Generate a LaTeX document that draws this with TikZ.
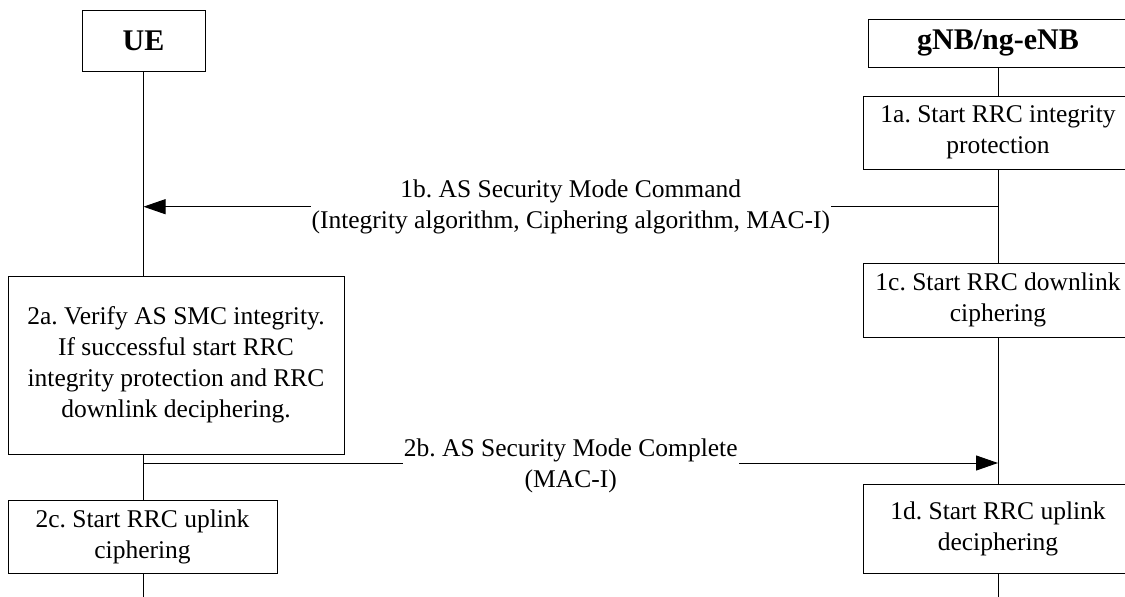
\documentclass[tikz,border=0pt]{standalone}
\usepackage{fontspec}
\setmainfont{Liberation Serif}
\usetikzlibrary{arrows.meta,positioning}
\frenchspacing

\begin{document}
\begin{tikzpicture}[x=1pt,y=-1pt,>={Triangle[length=22pt,width=15pt]},on grid,
  every node/.style={font=\fontsize{25.5}{31}\selectfont},
  box/.style={draw,fill=white,align=center,inner sep=0pt,line width=0.9pt},
  head/.style={box,font=\fontsize{30}{34}\selectfont\bfseries},
  msg/.style={fill=white,align=center,inner sep=1pt}]
  \useasboundingbox (0,0) rectangle (1125,597);
  % entities
  \node[head,minimum width=123pt,minimum height=61pt] (ue)  at (143.5,40.5) {UE};
  \node[head,minimum width=260pt,minimum height=48pt] (gnb) at (998,43)     {gNB/ng-eNB};
  \coordinate (ueend)  at (143.5,597);
  \coordinate (gnbend) at (998,597);
  \draw[line width=1pt] (ue)  -- (ueend);
  \draw[line width=1pt] (gnb) -- (gnbend);
  % gNB side steps
  \node[box,minimum width=270pt,minimum height=73pt] (s1a) [below=89.5pt of gnb]  {1a. Start RRC integrity\\protection};
  \node[box,minimum width=270pt,minimum height=74pt] (s1c) [below=167.5pt of s1a] {1c. Start RRC downlink\\ciphering};
  \node[box,minimum width=270pt,minimum height=89pt] (s1d) [below=228.5pt of s1c] {1d. Start RRC uplink\\deciphering};
  % UE side steps
  \node[box,minimum width=336pt,minimum height=178pt] (s2a) at (176,365)   {2a. Verify AS SMC integrity.\\If successful start RRC\\integrity protection and RRC\\downlink deciphering.};
  \node[box,minimum width=269pt,minimum height=73pt]  (s2c) at (142.5,536.5) {2c. Start RRC uplink\\ciphering};
  % messages
  \coordinate (m1b-ue)  at (143.5,206.7);
  \coordinate (m1b-gnb) at (998,206.7);
  \coordinate (m2b-ue)  at (143.5,463);
  \coordinate (m2b-gnb) at (998,463);
  \draw[->,line width=1pt] (m1b-gnb) -- node[msg] {1b. AS Security Mode Command\\(Integrity algorithm, Ciphering algorithm, MAC-I)} (m1b-ue);
  \draw[->,line width=1pt] (m2b-ue) -- node[msg,yshift=-3pt] {2b. AS Security Mode Complete\\(MAC-I)} (m2b-gnb);
\end{tikzpicture}
\end{document}
